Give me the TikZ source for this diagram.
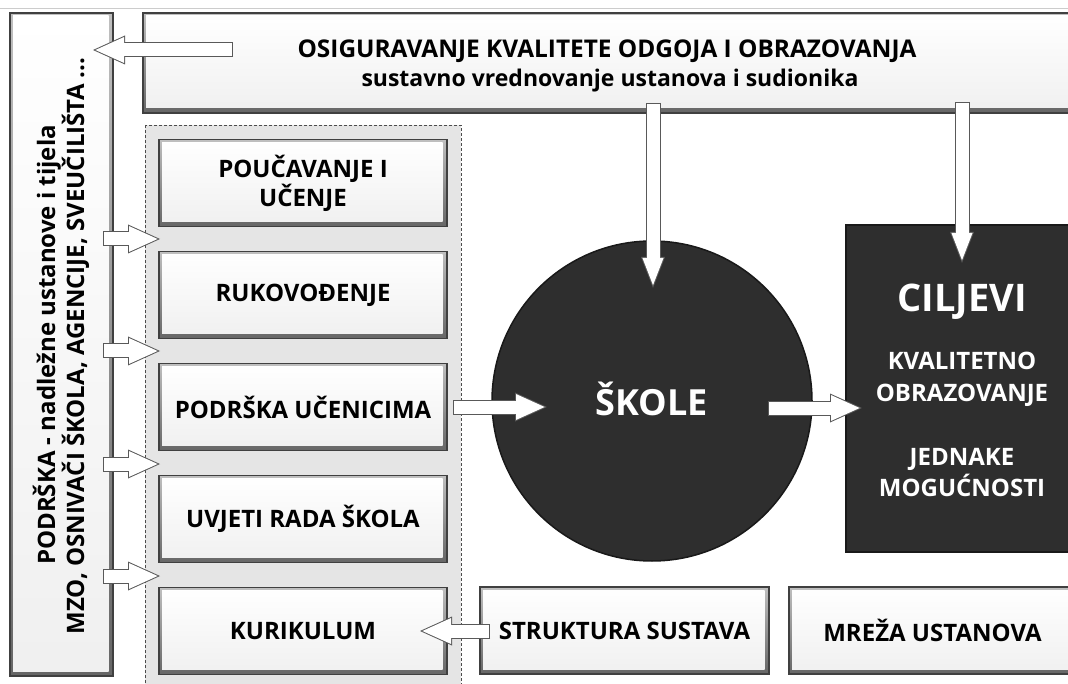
\documentclass[tikz,border=0pt]{standalone}
\usepackage{fontspec}
\setmainfont{Open Sans}
\usetikzlibrary{arrows.meta}

\tikzset{
  lightbox/.style={rectangle, draw=black!75, line width=1.2pt, top color=black!25, bottom color=black!60,
    inner sep=0pt, align=center, font=\bfseries\fontsize{24}{29}\selectfont,
    path picture={\shade[top color=white, bottom color=black!6]
      ([shift={(3pt,5pt)}]path picture bounding box.south west) rectangle
      ([shift={(-4.5pt,-3pt)}]path picture bounding box.north east);}},
  darkbox/.style={draw=black!90, line width=1.5pt, fill=black!82, text=white, inner sep=0pt},
  darktext/.style={text=white, anchor=base, font=\bfseries\fontsize{24}{29}\selectfont},
  sidetext/.style={rotate=90, anchor=base, font=\bfseries\fontsize{24}{29}\selectfont},
  panel/.style={draw=black!70, fill=black!10, dash pattern=on 3pt off 2pt, line width=0.8pt},
  arrowedge/.style={draw=black!65, line width=15pt, -{Triangle[length=32pt,width=29pt,line width=0pt]}},
  arrowbody/.style={draw=white, line width=13pt, shorten <=1pt, shorten >=2.4pt,
    -{Triangle[length=28.6pt,width=25.9pt,line width=0pt]}},
  narrowedge/.style={draw=black!65, line width=15pt, -{Triangle[length=31pt,width=24pt,line width=0pt]}},
  narrowbody/.style={draw=white, line width=13pt, shorten <=1pt, shorten >=2.8pt,
    -{Triangle[length=27.2pt,width=21.1pt,line width=0pt]}}
}

\begin{document}
\begin{tikzpicture}[x=1pt, y=-1pt]
\useasboundingbox (0,0) rectangle (1068,684);
%frame
\draw[black!20, line width=1pt] (0,9) -- (1068,9);
%support column
\node[lightbox, minimum width=103pt, minimum height=663pt] (podrska) at (61.5,344.5) {};
\node[sidetext] (podrska1) at (55,345) {PODRŠKA - nadležne ustanove i tijela};
\node[sidetext] (podrska2) at (84,346) {MZO, OSNIVAČI ŠKOLA, AGENCIJE, SVEUČILIŠTA ...};
%quality assurance
\node[lightbox, minimum width=933pt, minimum height=100pt] (osig) at (609.5,63) {};
\node[anchor=base, font=\bfseries\fontsize{24.4}{29}\selectfont] (osig1) at (607,58) {OSIGURAVANJE KVALITETE ODGOJA I OBRAZOVANJA};
\node[anchor=base, font=\bfseries\fontsize{23}{28}\selectfont] (osig2) at (610,87) {sustavno vrednovanje ustanova i sudionika};
%areas
\draw[panel] (145,125) rectangle (461,700);
\foreach \y/\name/\txt in {183/poucavanje/{POUČAVANJE I\\UČENJE}, 295/rukovodjenje/RUKOVOĐENJE,
  407/ucenici/PODRŠKA UČENICIMA, 519/uvjeti/UVJETI RADA ŠKOLA, 631/kurikulum/KURIKULUM}
  \node[lightbox, minimum width=288pt, minimum height=87pt] (\name) at (303,\y) {\txt};
%schools and goals
\node[darkbox, circle, minimum size=320pt] (skole) at (652,401) {};
\node[darktext, font=\bfseries\fontsize{36}{42}\selectfont] (skole1) at (652,415) {ŠKOLE};
\node[darkbox, rectangle, minimum width=232pt, minimum height=327pt] (ciljevi) at (962,388.5) {};
\node[darktext, font=\bfseries\fontsize{38}{44}\selectfont] (cilj1) at (962,312) {CILJEVI};
\node[darktext] (cilj2) at (962,370) {KVALITETNO};
\node[darktext] (cilj3) at (962,402) {OBRAZOVANJE};
\node[darktext] (cilj4) at (962,465) {JEDNAKE};
\node[darktext] (cilj5) at (962,496) {MOGUĆNOSTI};
%system
\node[lightbox, minimum width=289pt, minimum height=87pt] (struktura) at (624.5,630.5) {STRUKTURA SUSTAVA};
\node[lightbox, minimum width=287pt, minimum height=87pt] (mreza) at (932.5,630.5) {MREŽA USTANOVA};
%arrow ends
\coordinate (osigL) at (233,50);
\coordinate (podrskaT) at (93,50);
\coordinate (osigS) at (653,103);
\coordinate (skoleN) at (653,288);
\coordinate (osigC) at (962,102);
\coordinate (ciljeviN) at (962,263);
\coordinate (uceniciE) at (453,407);
\coordinate (skoleW) at (547,407);
\coordinate (skoleE) at (768,408);
\coordinate (ciljeviW) at (862,408);
\coordinate (strukturaW) at (490,631);
\coordinate (kurikulumE) at (420,631);
\foreach \y in {239,351,464,576}{
  \coordinate (podrska\y) at (103,\y);
  \coordinate (panel\y) at (160,\y);
}
%arrows
\foreach \a/\b in {osigL/podrskaT, uceniciE/skoleW, skoleE/ciljeviW, strukturaW/kurikulumE,
  podrska239/panel239, podrska351/panel351, podrska464/panel464, podrska576/panel576}{
  \draw[arrowedge] (\a) -- (\b);
  \draw[arrowbody] (\a) -- (\b);
}
\foreach \a/\b in {osigS/skoleN, osigC/ciljeviN}{
  \draw[narrowedge] (\a) -- (\b);
  \draw[narrowbody] (\a) -- (\b);
}
\end{tikzpicture}
\end{document}
